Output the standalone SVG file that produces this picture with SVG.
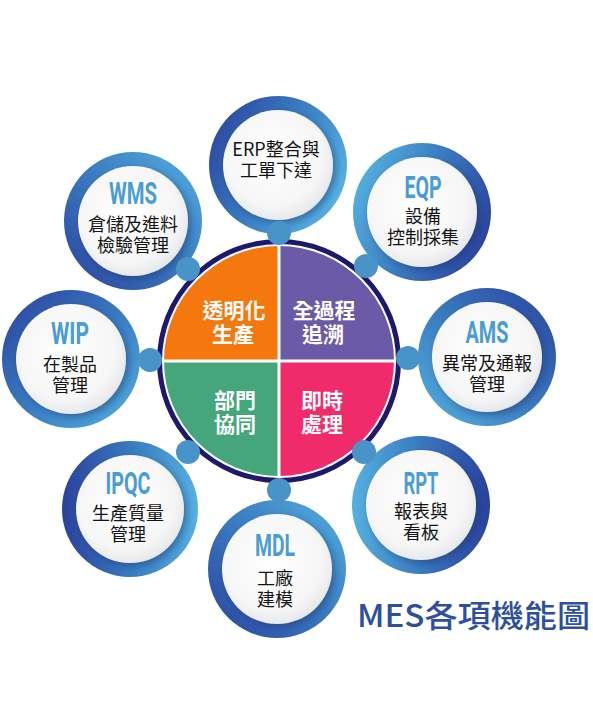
<svg xmlns="http://www.w3.org/2000/svg" width="593" height="726" viewBox="0 0 593 726">
<style>
.cjk{font-family:"Noto Sans CJK TC","Noto Sans CJK SC",sans-serif;font-size:18px;fill:#141414;text-anchor:middle;dominant-baseline:central}
.acr{font-family:Roboto,"Liberation Sans",sans-serif;font-weight:700;font-size:32px;fill:#4a9dd4;text-anchor:middle}
.quad{font-family:"Noto Sans CJK TC","Noto Sans CJK SC",sans-serif;font-weight:700;font-size:21px;fill:#ffffff;text-anchor:middle;dominant-baseline:central}
.inner{fill:url(#gWhite);filter:url(#sh)}
.dot{fill:#4894c8}
.title{font-family:"Noto Sans CJK TC","Noto Sans CJK SC",sans-serif;font-weight:500;font-size:31px;fill:#2d4f9e}
</style>
<defs>
<filter id="sh" x="-20%" y="-20%" width="150%" height="150%">
<feDropShadow dx="3" dy="3" stdDeviation="3" flood-color="#1a2a60" flood-opacity="0.4"/>
</filter>
<radialGradient id="gWhite" cx="0.45" cy="0.42" r="0.6">
<stop offset="0" stop-color="#ffffff"/>
<stop offset="0.75" stop-color="#f6f6f7"/>
<stop offset="1" stop-color="#e6e7ea"/>
</radialGradient>
<linearGradient id="gERP" x1="0" y1="0.1" x2="1" y2="0.6"><stop offset="0" stop-color="#2a419c"/><stop offset="0.55" stop-color="#3b7fc2"/><stop offset="1" stop-color="#55b0e0"/></linearGradient>
<linearGradient id="gWMS" x1="0" y1="1" x2="1" y2="0"><stop offset="0" stop-color="#2a419c"/><stop offset="0.55" stop-color="#3b7fc2"/><stop offset="1" stop-color="#55b0e0"/></linearGradient>
<linearGradient id="gEQP" x1="1" y1="0.7" x2="0" y2="0.3"><stop offset="0" stop-color="#2a419c"/><stop offset="0.55" stop-color="#3b7fc2"/><stop offset="1" stop-color="#55b0e0"/></linearGradient>
<linearGradient id="gWIP" x1="0" y1="0" x2="1" y2="1"><stop offset="0" stop-color="#2a419c"/><stop offset="0.55" stop-color="#3b7fc2"/><stop offset="1" stop-color="#55b0e0"/></linearGradient>
<linearGradient id="gAMS" x1="1" y1="0" x2="0" y2="1"><stop offset="0" stop-color="#2a419c"/><stop offset="0.55" stop-color="#3b7fc2"/><stop offset="1" stop-color="#55b0e0"/></linearGradient>
<linearGradient id="gIPQC" x1="0" y1="0.5" x2="1" y2="0.5"><stop offset="0" stop-color="#2a419c"/><stop offset="0.55" stop-color="#3b7fc2"/><stop offset="1" stop-color="#55b0e0"/></linearGradient>
<linearGradient id="gRPT" x1="1" y1="0.5" x2="0" y2="0.5"><stop offset="0" stop-color="#2a419c"/><stop offset="0.55" stop-color="#3b7fc2"/><stop offset="1" stop-color="#55b0e0"/></linearGradient>
<linearGradient id="gMDL" x1="0" y1="1" x2="1" y2="0"><stop offset="0" stop-color="#2a419c"/><stop offset="0.55" stop-color="#3b7fc2"/><stop offset="1" stop-color="#55b0e0"/></linearGradient>
</defs>
<rect width="593" height="726" fill="#ffffff"/>

<g id="node-erp">
<circle cx="278" cy="165" r="69" fill="url(#gERP)"/>
<circle class="inner" cx="278" cy="165" r="55"/>
<text class="cjk"><tspan x="276" y="147.5">ERP整合與</tspan><tspan x="276" y="168.5">工單下達</tspan></text>
</g>
<g id="node-wms">
<circle cx="133" cy="221" r="69" fill="url(#gWMS)"/>
<circle class="inner" cx="133" cy="221" r="55"/>
<text class="acr" x="133" y="204" textLength="48" lengthAdjust="spacingAndGlyphs">WMS</text>
<text class="cjk"><tspan x="133" y="222.5">倉儲及進料</tspan><tspan x="133" y="243.5">檢驗管理</tspan></text>
</g>
<g id="node-eqp">
<circle cx="422" cy="212" r="69" fill="url(#gEQP)"/>
<circle class="inner" cx="422" cy="212" r="55"/>
<text class="acr" x="423" y="198" textLength="37" lengthAdjust="spacingAndGlyphs">EQP</text>
<text class="cjk"><tspan x="423" y="215">設備</tspan><tspan x="423" y="236">控制採集</tspan></text>
</g>
<g id="node-wip">
<circle cx="71" cy="359" r="69" fill="url(#gWIP)"/>
<circle class="inner" cx="71" cy="359" r="55"/>
<text class="acr" x="70" y="344" textLength="38" lengthAdjust="spacingAndGlyphs">WIP</text>
<text class="cjk"><tspan x="70" y="362.5">在製品</tspan><tspan x="70" y="383.5">管理</tspan></text>
</g>
<g id="node-ams">
<circle cx="487" cy="357" r="69" fill="url(#gAMS)"/>
<circle class="inner" cx="487" cy="357" r="55"/>
<text class="acr" x="487" y="343" textLength="43" lengthAdjust="spacingAndGlyphs">AMS</text>
<text class="cjk"><tspan x="487" y="361.5">異常及通報</tspan><tspan x="487" y="382.5">管理</tspan></text>
</g>
<g id="node-ipqc">
<circle cx="130" cy="509" r="68" fill="url(#gIPQC)"/>
<circle class="inner" cx="130" cy="509" r="54"/>
<text class="acr" x="128" y="494" textLength="45" lengthAdjust="spacingAndGlyphs">IPQC</text>
<text class="cjk"><tspan x="128" y="512">生產質量</tspan><tspan x="128" y="533">管理</tspan></text>
</g>
<g id="node-rpt">
<circle cx="421" cy="505" r="69" fill="url(#gRPT)"/>
<circle class="inner" cx="421" cy="505" r="55"/>
<text class="acr" x="421" y="494" textLength="35" lengthAdjust="spacingAndGlyphs">RPT</text>
<text class="cjk"><tspan x="421" y="509.5">報表與</tspan><tspan x="421" y="530.5">看板</tspan></text>
</g>
<g id="node-mdl">
<circle cx="277" cy="569" r="69" fill="url(#gMDL)"/>
<circle class="inner" cx="277" cy="569" r="55"/>
<text class="acr" x="275" y="556" textLength="40" lengthAdjust="spacingAndGlyphs">MDL</text>
<text class="cjk"><tspan x="275" y="576.5">工廠</tspan><tspan x="275" y="597.5">建模</tspan></text>
</g>

<g id="node-center">
<circle cx="279" cy="361" r="119.5" fill="#ffffff" stroke="#1d1a6e" stroke-width="5"/>
<path d="M279,361 L164,361 A115,115 0 0 1 279,246 Z" fill="#f5780f"/>
<path d="M279,361 L279,246 A115,115 0 0 1 394,361 Z" fill="#6a5aa8"/>
<path d="M279,361 L164,361 A115,115 0 0 0 279,476 Z" fill="#45a67b"/>
<path d="M279,361 L279,476 A115,115 0 0 0 394,361 Z" fill="#ef2b6b"/>
<line x1="279" y1="244" x2="279" y2="478" stroke="#ffffff" stroke-width="3"/>
<line x1="162" y1="361" x2="396" y2="361" stroke="#ffffff" stroke-width="3"/>
<text class="quad"><tspan x="234" y="309">透明化</tspan><tspan x="233" y="333">生產</tspan></text>
<text class="quad"><tspan x="324" y="309">全過程</tspan><tspan x="323" y="333">追溯</tspan></text>
<text class="quad"><tspan x="235" y="399">部門</tspan><tspan x="235" y="423">協同</tspan></text>
<text class="quad"><tspan x="322" y="399">即時</tspan><tspan x="322" y="423">處理</tspan></text>
</g>

<g id="connectors">
<circle class="dot" cx="279" cy="233" r="12"/>
<circle class="dot" cx="188" cy="269" r="12"/>
<circle class="dot" cx="366" cy="266" r="12"/>
<circle class="dot" cx="150" cy="360" r="12"/>
<circle class="dot" cx="408" cy="358" r="12"/>
<circle class="dot" cx="188" cy="452" r="12"/>
<circle class="dot" cx="364" cy="452" r="12"/>
<circle class="dot" cx="279" cy="490" r="12"/>
</g>

<text class="title" x="357" y="627" textLength="233" lengthAdjust="spacingAndGlyphs">MES各項機能圖</text>
</svg>
